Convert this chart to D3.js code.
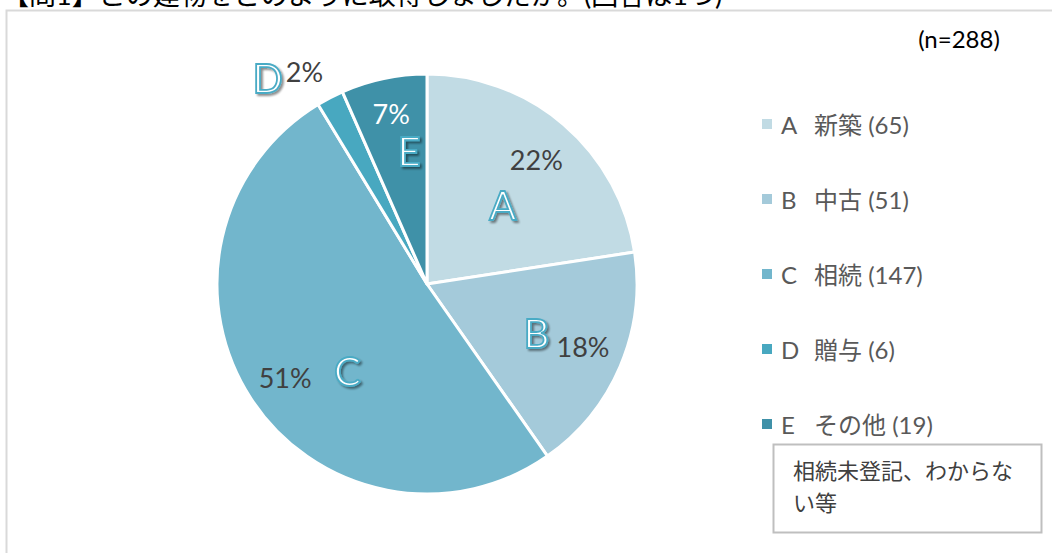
<!DOCTYPE html>
<html><head><meta charset="utf-8">
<script src="https://cdn.jsdelivr.net/npm/d3@7"></script>
<style>
html,body{margin:0;padding:0;background:#fff;overflow:hidden;}
svg{display:block;}
</style></head>
<body>
<svg id="chart" width="1052" height="553"></svg>
<script>
// ---- data ----
const categories = ["A", "B", "C", "D", "E"];
const categoryNames = ["新築", "中古", "相続", "贈与", "その他"];
const counts = [65, 51, 147, 6, 19];
const percentLabels = ["22%", "18%", "51%", "2%", "7%"];
const colors = ["#c1dbe4", "#a4cada", "#72b6cc", "#48a8c0", "#3f91a8"];
const titleText = "【問1】この建物をどのように取得しましたか。(回答は1つ)";
const nText = "(n=288)";
const noteLines = ["相続未登記、わからな", "い等"];

// ---- layout (not data) ----
const pctRadius = [0.79, 0.80, 0.81, 1.17, 0.83];
const pctAngleShift = [0.6, -1.3, -0.4, -2.4, 0];
const letterRadius = [0.52, 0.57, 0.56, 1.24, 0.64];
const letterAngleShift = [3.3, 0.8, -14.3, -10.2, 4.2];

const svg = d3.select("#chart");
const W = 1052, H = 553;
const cx = 427, cy = 284, R = 210;
const latin = "Lato, 'Noto Sans', sans-serif";
const cjk = "Lato, 'Noto Sans CJK JP', sans-serif";

const defs = svg.append("defs");
const f = defs.append("filter").attr("id", "sh").attr("x", "-30%").attr("y", "-30%").attr("width", "160%").attr("height", "160%");
f.append("feGaussianBlur").attr("in", "SourceAlpha").attr("stdDeviation", 1.2).attr("result", "b");
f.append("feOffset").attr("in", "b").attr("dx", 1.5).attr("dy", 1.5).attr("result", "o");
f.append("feComponentTransfer").attr("in", "o").attr("result", "o2")
  .append("feFuncA").attr("type", "linear").attr("slope", 0.45);
const m = f.append("feMerge");
m.append("feMergeNode").attr("in", "o2");
m.append("feMergeNode").attr("in", "SourceGraphic");

// title (cut off at top, as in the reference)
svg.append("text").attr("x", 2).attr("y", 5)
  .attr("font-family", cjk).attr("font-size", 27).attr("fill", "#000")
  .text(titleText);

// frame
svg.append("rect").attr("x", 6.5).attr("y", 10.5).attr("width", W + 20).attr("height", H + 20)
  .attr("fill", "none").attr("stroke", "#d9d9d9").attr("stroke-width", 2);

// pie
const pie = d3.pie().sort(null).value(d => d)(counts);
const arc = d3.arc().innerRadius(0).outerRadius(R);
const g = svg.append("g").attr("transform", `translate(${cx},${cy})`);
g.selectAll("path.slice").data(pie).join("path")
  .attr("class", "slice")
  .attr("d", arc)
  .attr("fill", (d, i) => colors[i])
  .attr("stroke", "#fff").attr("stroke-width", 3).attr("stroke-linejoin", "round");

function polar(d, i, rf, shift) {
  const a = (d.startAngle + d.endAngle) / 2 + shift * Math.PI / 180;
  const r = R * rf;
  return [r * Math.sin(a), -r * Math.cos(a)];
}

g.selectAll("text.pct").data(pie).join("text")
  .attr("class", "pct")
  .attr("transform", (d, i) => `translate(${polar(d, i, pctRadius[i], pctAngleShift[i])})`)
  .attr("text-anchor", "middle").attr("dominant-baseline", "central")
  .attr("font-family", latin).attr("font-size", 27)
  .attr("fill", (d, i) => i === 4 ? "#ffffff" : "#404040")
  .text((d, i) => percentLabels[i]);

g.selectAll("text.letter").data(pie).join("text")
  .attr("class", "letter")
  .attr("transform", (d, i) => `translate(${polar(d, i, letterRadius[i], letterAngleShift[i])})`)
  .attr("text-anchor", "middle").attr("dominant-baseline", "central")
  .attr("font-family", latin).attr("font-size", 40)
  .attr("fill", "#ffffff").attr("stroke", "#4aabc5").attr("stroke-width", 1.8)
  .attr("filter", "url(#sh)")
  .text((d, i) => categories[i]);

svg.append("text").attr("x", 959).attr("y", 38)
  .attr("text-anchor", "middle").attr("dominant-baseline", "central")
  .attr("font-family", latin).attr("font-size", 24).attr("fill", "#000")
  .text(nText);

// legend
const ly = d3.scalePoint().domain(categories).range([124, 424]);
const items = svg.append("g").selectAll("g").data(categories).join("g")
  .attr("transform", d => `translate(762,${ly(d)})`);
items.append("rect").attr("x", 0).attr("y", -5).attr("width", 10).attr("height", 10)
  .attr("fill", (d, i) => colors[i]);
const lt = items.append("text").attr("x", 19).attr("y", 0).attr("dominant-baseline", "central")
  .attr("font-family", cjk).attr("font-size", 24).attr("fill", "#595959");
lt.append("tspan").text(d => d);
lt.append("tspan").attr("x", 52).text((d, i) => categoryNames[i] + " ");
lt.append("tspan").text((d, i) => "(" + counts[i] + ")");

// note box
svg.append("rect").attr("x", 773.5).attr("y", 444.5).attr("width", 268).attr("height", 88)
  .attr("fill", "#fff").attr("stroke", "#bfbfbf").attr("stroke-width", 2);
svg.append("g").selectAll("text").data(noteLines).join("text")
  .attr("x", 793).attr("y", (d, i) => 470 + i * 32)
  .attr("dominant-baseline", "central")
  .attr("font-family", cjk).attr("font-size", 22).attr("fill", "#404040")
  .text(d => d);
</script>
</body></html>
